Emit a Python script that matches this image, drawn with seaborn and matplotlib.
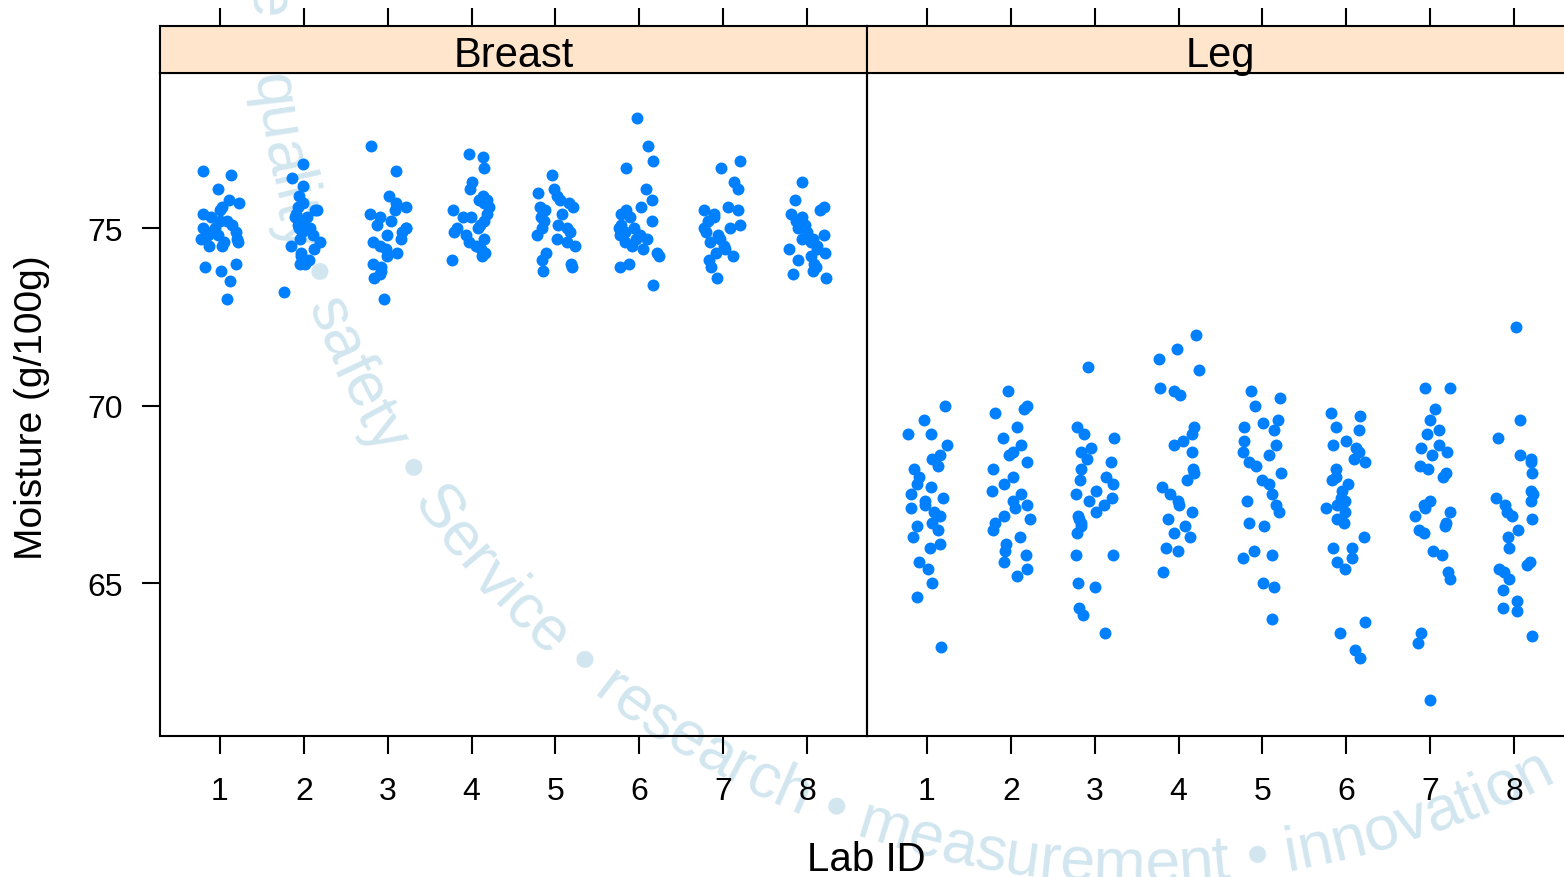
import numpy as np
import pandas as pd
import matplotlib.pyplot as plt
import seaborn as sns
from matplotlib.font_manager import FontProperties, findfont
from matplotlib.ft2font import FT2Font

labs = ['1', '2', '3', '4', '5', '6', '7', '8']
tissues = ['Breast', 'Leg']

# moisture readings (g/100g)
breast_lab1 = [76.6, 76.5, 76.1, 75.8, 75.7, 75.6, 75.5, 75.4, 75.3, 75.2, 75.2, 75.1, 75.0, 75.0, 74.9,
               74.9, 74.8, 74.8, 74.7, 74.7, 74.6, 74.6, 74.5, 74.5, 74.0, 73.9, 73.8, 73.5, 73.0]
breast_lab2 = [76.8, 76.4, 76.2, 75.9, 75.7, 75.6, 75.5, 75.5, 75.4, 75.3, 75.3, 75.2, 75.1, 75.0, 75.0,
               74.9, 74.8, 74.7, 74.6, 74.5, 74.4, 74.3, 74.2, 74.1, 74.0, 74.0, 73.2]
breast_lab3 = [77.3, 76.6, 75.9, 75.7, 75.6, 75.5, 75.4, 75.3, 75.2, 75.1, 75.0, 75.0, 74.9, 74.8, 74.7,
               74.6, 74.5, 74.4, 74.3, 74.2, 74.0, 73.9, 73.8, 73.7, 73.6, 73.0]
breast_lab4 = [77.1, 77.0, 76.7, 76.3, 76.1, 75.9, 75.8, 75.8, 75.7, 75.6, 75.5, 75.4, 75.3, 75.3, 75.2,
               75.1, 75.0, 75.0, 74.9, 74.8, 74.7, 74.6, 74.5, 74.4, 74.3, 74.2, 74.1]
breast_lab5 = [76.5, 76.1, 76.0, 75.9, 75.8, 75.7, 75.6, 75.6, 75.5, 75.4, 75.3, 75.2, 75.1, 75.0, 75.0,
               74.9, 74.8, 74.7, 74.6, 74.5, 74.3, 74.1, 74.0, 73.9, 73.8]
breast_lab6 = [78.1, 77.3, 76.9, 76.7, 76.1, 75.8, 75.6, 75.5, 75.4, 75.3, 75.2, 75.1, 75.0, 75.0, 74.9,
               74.9, 74.8, 74.8, 74.7, 74.7, 74.6, 74.5, 74.4, 74.3, 74.2, 74.0, 73.9, 73.4]
breast_lab7 = [76.9, 76.7, 76.3, 76.1, 75.6, 75.5, 75.5, 75.4, 75.3, 75.2, 75.1, 75.0, 75.0, 74.9, 74.8,
               74.7, 74.6, 74.5, 74.4, 74.3, 74.2, 74.1, 73.9, 73.6]
breast_lab8 = [76.3, 75.8, 75.6, 75.5, 75.4, 75.3, 75.2, 75.1, 75.0, 74.9, 74.8, 74.7, 74.7, 74.6, 74.5,
               74.4, 74.4, 74.3, 74.2, 74.1, 74.0, 73.9, 73.8, 73.7, 73.6]

leg_lab1 = [70.0, 69.6, 69.2, 69.2, 68.9, 68.6, 68.5, 68.3, 68.2, 68.0, 67.8, 67.7, 67.5, 67.4, 67.3,
            67.2, 67.1, 67.0, 66.9, 66.7, 66.6, 66.5, 66.3, 66.1, 66.0, 65.6, 65.4, 65.0, 64.6, 63.2]
leg_lab2 = [70.4, 70.0, 69.9, 69.8, 69.4, 69.1, 68.9, 68.7, 68.6, 68.4, 68.2, 68.0, 67.8, 67.6, 67.5,
            67.3, 67.2, 67.1, 66.9, 66.8, 66.7, 66.5, 66.3, 66.1, 65.9, 65.8, 65.6, 65.4, 65.2]
leg_lab3 = [71.1, 69.4, 69.2, 69.1, 68.8, 68.7, 68.5, 68.4, 68.2, 68.0, 67.9, 67.8, 67.6, 67.5, 67.4,
            67.3, 67.2, 67.0, 66.9, 66.8, 66.7, 66.6, 66.4, 65.8, 65.8, 65.0, 64.9, 64.3, 64.1, 63.6]
leg_lab4 = [72.0, 71.6, 71.3, 71.0, 70.5, 70.4, 70.3, 69.4, 69.2, 69.0, 68.9, 68.7, 68.2, 68.1, 67.9,
            67.7, 67.5, 67.3, 67.2, 67.0, 66.8, 66.6, 66.4, 66.3, 66.0, 65.9, 65.3]
leg_lab5 = [70.4, 70.2, 70.0, 69.6, 69.5, 69.4, 69.3, 69.0, 68.9, 68.7, 68.6, 68.4, 68.3, 68.1, 67.9,
            67.8, 67.5, 67.3, 67.2, 67.0, 66.7, 66.6, 65.9, 65.8, 65.7, 65.0, 64.9, 64.0]
leg_lab6 = [69.8, 69.7, 69.4, 69.3, 69.0, 68.9, 68.8, 68.7, 68.5, 68.4, 68.2, 68.0, 67.9, 67.8, 67.6,
            67.4, 67.3, 67.2, 67.1, 67.0, 66.8, 66.7, 66.3, 66.0, 66.0, 65.7, 65.6, 65.4, 63.9, 63.6,
            63.1, 62.9]
leg_lab7 = [70.5, 70.5, 69.9, 69.6, 69.3, 69.2, 68.9, 68.8, 68.7, 68.6, 68.3, 68.2, 68.1, 68.0, 67.3,
            67.2, 67.1, 67.0, 66.9, 66.7, 66.6, 66.5, 66.4, 65.9, 65.8, 65.3, 65.1, 63.6, 63.3, 61.7]
leg_lab8 = [72.2, 69.6, 69.1, 68.6, 68.5, 68.4, 68.1, 67.6, 67.5, 67.4, 67.3, 67.2, 67.0, 66.9, 66.8,
            66.5, 66.3, 66.0, 65.6, 65.5, 65.4, 65.3, 65.1, 64.8, 64.5, 64.3, 64.2, 63.5]

breast_all = [breast_lab1, breast_lab2, breast_lab3, breast_lab4,
              breast_lab5, breast_lab6, breast_lab7, breast_lab8]
leg_all = [leg_lab1, leg_lab2, leg_lab3, leg_lab4, leg_lab5, leg_lab6, leg_lab7, leg_lab8]

rows = []
for tissue, groups in zip(tissues, [breast_all, leg_all]):
    for lab, vals in zip(labs, groups):
        for v in vals:
            rows.append((tissue, lab, v))
df = pd.DataFrame(rows, columns=['tissue', 'lab', 'moisture'])

sns.set_style('white')
plt.rcParams['font.family'] = ['Liberation Sans', 'DejaVu Sans']
plt.rcParams['text.color'] = 'black'
plt.rcParams['xtick.color'] = 'black'
plt.rcParams['ytick.color'] = 'black'
np.random.seed(7)

W, H = 1564, 878
fig = plt.figure(figsize=(W / 100, H / 100), dpi=100)
fig.patch.set_facecolor('white')

panel_w = 707 / W
lefts = [160 / W, 867 / W]
bottom = (H - 737) / H
height = 663 / H
strip_b = (H - 74) / H
strip_h = 47 / H
xlim = (-0.7155, 7.7155)
ylim = (60.69, 79.37)

for i, tissue in enumerate(tissues):
    ax = fig.add_axes([lefts[i], bottom, panel_w, height])
    ax.set_facecolor('none')
    sns.stripplot(data=df[df['tissue'] == tissue], x='lab', y='moisture', order=labs,
                  jitter=0.24, color='#0080ff', size=8.6, linewidth=0, ax=ax)
    ax.set_xlim(*xlim)
    ax.set_ylim(*ylim)
    ax.set_xlabel('')
    ax.set_ylabel('')
    for sp in ax.spines.values():
        sp.set_visible(True)
        sp.set_color('black')
        sp.set_linewidth(1.5)
    ax.set_yticks([65, 70, 75])
    ax.tick_params(axis='x', direction='out', length=13, width=1.5, pad=16,
                   labelsize=23, bottom=True)
    if i == 0:
        ax.tick_params(axis='y', direction='out', length=13, width=1.5, pad=14,
                       labelsize=23, left=True)
    else:
        ax.tick_params(axis='y', left=False, labelleft=False)

    sax = fig.add_axes([lefts[i], strip_b, panel_w, strip_h])
    sax.set_facecolor('#ffe5cc')
    sax.set_xlim(*xlim)
    sax.set_ylim(0, 1)
    sax.set_xticks(range(len(labs)))
    sax.set_yticks([])
    sax.tick_params(axis='x', top=True, bottom=False, labeltop=False, labelbottom=False,
                    direction='out', length=13, width=1.5)
    for sp in sax.spines.values():
        sp.set_color('black')
        sp.set_linewidth(1.5)
    sax.text(3.5, 0.38, tissue, ha='center', va='center', fontsize=30)

fig.text(866 / W, 1 - 860 / H, 'Lab ID', ha='center', va='center', fontsize=29)
fig.text(32 / W, 1 - 408 / H, 'Moisture (g/100g)', ha='center', va='center',
         rotation=90, fontsize=28)

# curved watermark behind the panels
wm_text = 'science \u2022 quality \u2022 safety \u2022 Service \u2022 research \u2022 measurement \u2022 innovation'
wm_fp = FontProperties(family='Liberation Sans', size=45)
ft = FT2Font(findfont(wm_fp))
ft.set_size(45, 100)
advs = []
for ch in wm_text:
    g = ft.load_char(ord(ch))
    advs.append(g.linearHoriAdvance / 65536)
cx, cy, R = 1140, 885, 890
theta0 = np.radians(185.3)
start = sum(advs[:len('science \u2022 ')])
cum = 0.0
for ch, a in zip(wm_text, advs):
    s = cum + a / 2 - start
    th = theta0 + s / R
    x = cx + R * np.cos(th)
    y = cy + R * np.sin(th)
    fig.text(x / W, y / H, ch, ha='center', va='baseline', rotation=np.degrees(th) + 90,
             rotation_mode='anchor', fontproperties=wm_fp, color='#d2e6f0', zorder=-5)
    cum += a

fig.savefig('out.png', dpi=100)
